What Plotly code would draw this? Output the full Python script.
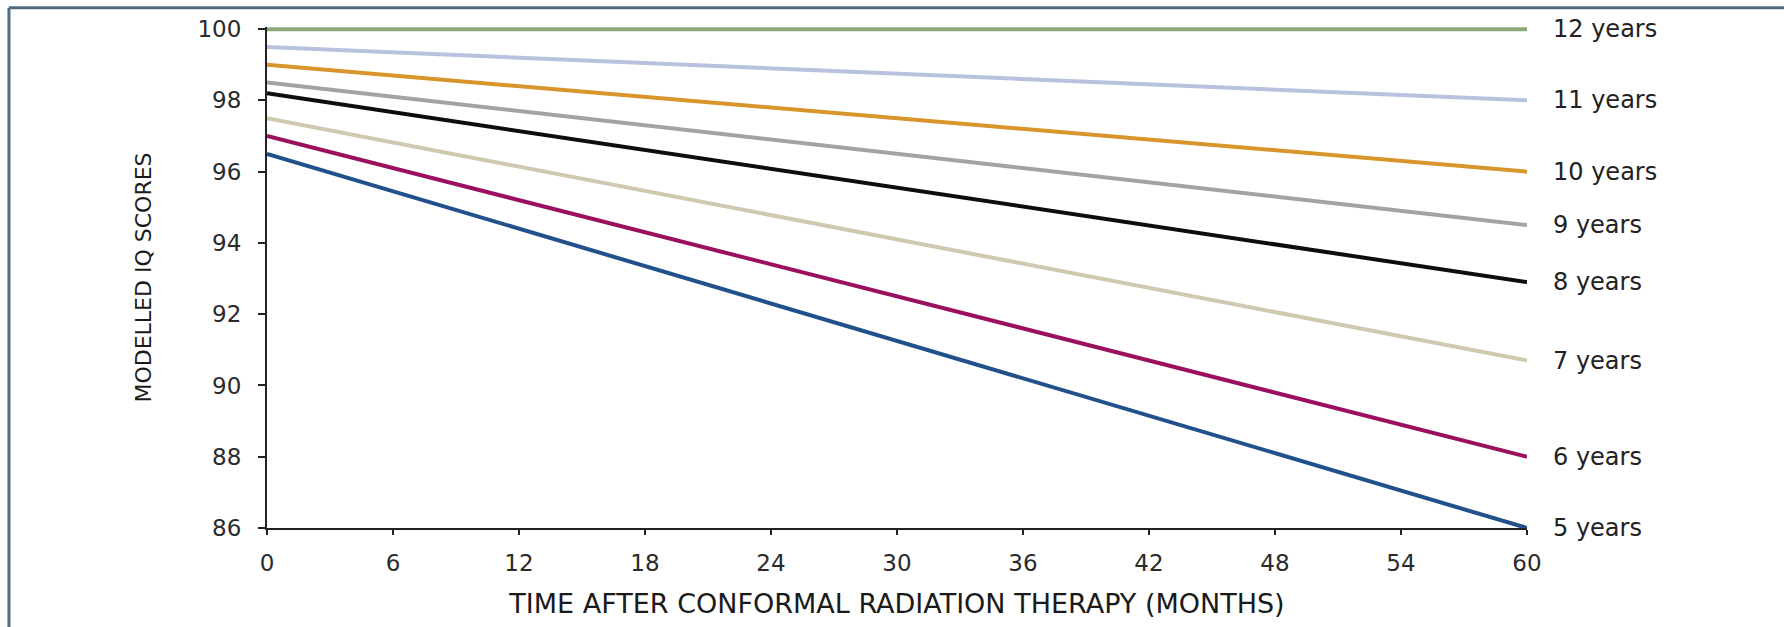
import plotly.graph_objects as go

# Data
months = [0, 30, 60]
series_names = ["12 years", "11 years", "10 years", "9 years", "8 years", "7 years", "6 years", "5 years"]
iq_12 = [100.0, 100.0, 100.0]
iq_11 = [99.5, 98.76, 98.0]
iq_10 = [99.0, 97.5, 96.0]
iq_9 = [98.5, 96.5, 94.5]
iq_8 = [98.2, 95.55, 92.9]
iq_7 = [97.5, 94.1, 90.7]
iq_6 = [97.0, 92.5, 88.0]
iq_5 = [96.5, 91.25, 86.0]
x_ticks = [0, 6, 12, 18, 24, 30, 36, 42, 48, 54, 60]
y_ticks = [86, 88, 90, 92, 94, 96, 98, 100]

series_values = [iq_12, iq_11, iq_10, iq_9, iq_8, iq_7, iq_6, iq_5]
colors = ["#8aa87a", "#b7c2de", "#d8952c", "#a3a3a3", "#0d0d0d", "#cfc9b2", "#9a0f5e", "#21508c"]

FONT = "DejaVu Sans"

fig = go.Figure()
for name, vals, col in zip(series_names, series_values, colors):
    fig.add_trace(go.Scatter(
        x=months, y=vals, mode="lines", name=name,
        line=dict(color=col, width=4), cliponaxis=False, showlegend=False,
    ))

for name, vals, col in zip(series_names, series_values, colors):
    fig.add_annotation(
        x=months[-1], y=vals[-1], xref="x", yref="y", text=name,
        showarrow=False, xanchor="left", yanchor="middle", xshift=24,
        font=dict(family=FONT, size=24, color="#222222"),
    )

# frame along the top and left edges of the figure
fig.add_shape(type="line", xref="paper", yref="paper",
              x0=-0.2048, x1=1.3, y0=1.0385, y1=1.0385,
              line=dict(color="#4f6c82", width=3), layer="below")
fig.add_shape(type="line", xref="paper", yref="paper",
              x0=-0.2048, x1=-0.2048, y0=-0.4, y1=1.0385,
              line=dict(color="#4f6c82", width=3), layer="below")

fig.update_layout(
    width=1784, height=627,
    margin=dict(l=267, r=257, t=27, b=99),
    paper_bgcolor="white", plot_bgcolor="white",
    showlegend=False,
)
fig.update_xaxes(
    range=[0, 60], tickvals=x_ticks, ticktext=[str(v) for v in x_ticks],
    showgrid=False, zeroline=False, showline=True, linecolor="#222222", linewidth=2,
    ticks="outside", ticklen=5, tickwidth=1.5, tickcolor="#222222",
    ticklabelstandoff=8,
    tickfont=dict(family=FONT, size=23, color="#2a2a2a"),
    title=dict(text="TIME AFTER CONFORMAL RADIATION THERAPY (MONTHS)",
               font=dict(family=FONT, size=27, color="#1a1a1a"), standoff=20),
)
fig.update_yaxes(
    range=[86, 100.06], tickvals=y_ticks, ticktext=[str(v) for v in y_ticks],
    showgrid=False, zeroline=False, showline=True, linecolor="#222222", linewidth=2,
    ticks="outside", ticklen=7, tickwidth=1.5, tickcolor="#222222",
    ticklabelstandoff=12,
    tickfont=dict(family=FONT, size=23, color="#2a2a2a"),
    title=dict(text="MODELLED IQ SCORES",
               font=dict(family=FONT, size=22, color="#1a1a1a"), standoff=40),
)

fig.write_html("out.html")
